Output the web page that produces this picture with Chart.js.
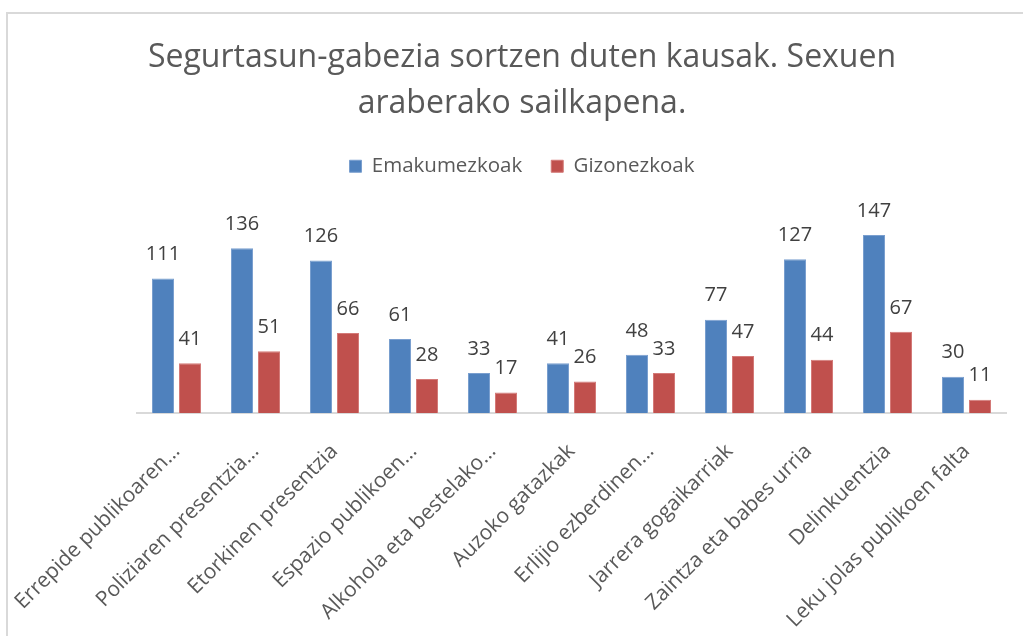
<!DOCTYPE html>
<html>
<head>
<meta charset="utf-8">
<script src="https://cdn.jsdelivr.net/npm/chart.js@4"></script>
<style>
  html, body { margin: 0; padding: 0; background: #fff; overflow: hidden; }
  #frame { position: absolute; left: 6px; top: 12px; width: 1100px; height: 700px;
           border-left: 2px solid #d9d9d9; border-top: 2px solid #d9d9d9; }
  #wrap { position: absolute; left: 0; top: 0; width: 1023px; height: 636px; }
</style>
</head>
<body>
<div id="frame"></div>
<div id="wrap"><canvas id="grafikoa"></canvas></div>
<script>
// Datuak
const kategoriak = [
  'Errepide publikoaren…',
  'Poliziaren presentzia…',
  'Etorkinen presentzia',
  'Espazio publikoen…',
  'Alkohola eta bestelako…',
  'Auzoko gatazkak',
  'Erlijio ezberdinen…',
  'Jarrera gogaikarriak',
  'Zaintza eta babes urria',
  'Delinkuentzia',
  'Leku jolas publikoen falta'
];
const emakumezkoak = [111, 136, 126, 61, 33, 41, 48, 77, 127, 147, 30];
const gizonezkoak = [41, 51, 66, 28, 17, 26, 33, 47, 44, 67, 11];
const izenburua = ['Segurtasun-gabezia sortzen duten kausak. Sexuen', 'araberako sailkapena.'];

// balioak barren gainean idatzi
const etiketak = {
  id: 'etiketak',
  afterDatasetsDraw(chart) {
    const ctx = chart.ctx;
    ctx.save();
    ctx.font = '20px "Open Sans"';
    ctx.fillStyle = '#404040';
    ctx.textAlign = 'center';
    ctx.textBaseline = 'bottom';
    chart.data.datasets.forEach((ds, i) => {
      chart.getDatasetMeta(i).data.forEach((bar, j) => {
        ctx.fillText(ds.data[j], bar.x, bar.y - 14);
      });
    });
    ctx.restore();
  }
};

const ctx = document.getElementById('grafikoa').getContext('2d');
const grafikoa = new Chart(ctx, {
  type: 'bar',
  data: {
    labels: kategoriak,
    datasets: [{
      label: 'Emakumezkoak',
      data: emakumezkoak,
      backgroundColor: '#4f81bd',
      borderColor: '#7a9fcf',
      borderWidth: 1
    }, {
      label: 'Gizonezkoak',
      data: gizonezkoak,
      backgroundColor: '#c0504d',
      borderColor: '#d47a78',
      borderWidth: 1
    }]
  },
  options: {
    responsive: true,
    maintainAspectRatio: false,
    animation: false,
    categoryPercentage: 0.684,
    barPercentage: 0.815,
    layout: { padding: { left: 38, right: 17, top: 0, bottom: 0 } },
    plugins: {
      title: {
        display: true,
        text: izenburua,
        color: '#595959',
        font: { family: 'Open Sans', size: 32, weight: 'normal', lineHeight: '46px' },
        padding: { top: 35, bottom: 0 }
      },
      legend: {
        display: true,
        labels: {
          color: '#595959',
          font: { family: 'Open Sans', size: 20.5 },
          boxWidth: 12,
          boxHeight: 12,
          padding: 29
        }
      },
      tooltip: { enabled: false }
    },
    scales: {
      x: {
        grid: { display: false },
        border: { display: true, color: '#d9d9d9', width: 2 },
        ticks: {
          color: '#595959',
          font: { family: 'Open Sans', size: 21 },
          minRotation: 45,
          maxRotation: 45,
          autoSkip: false,
          padding: 18
        },
        afterFit(scale) {
          scale.height = 223;
          scale.paddingLeft = 0;
          scale.paddingRight = 0;
        }
      },
      y: {
        display: true,
        min: 0,
        max: 187,
        grid: { display: false },
        border: { display: false },
        ticks: { display: false },
        afterFit(scale) { scale.width = 99; }
      }
    }
  },
  plugins: [etiketak]
});
</script>
</body>
</html>
